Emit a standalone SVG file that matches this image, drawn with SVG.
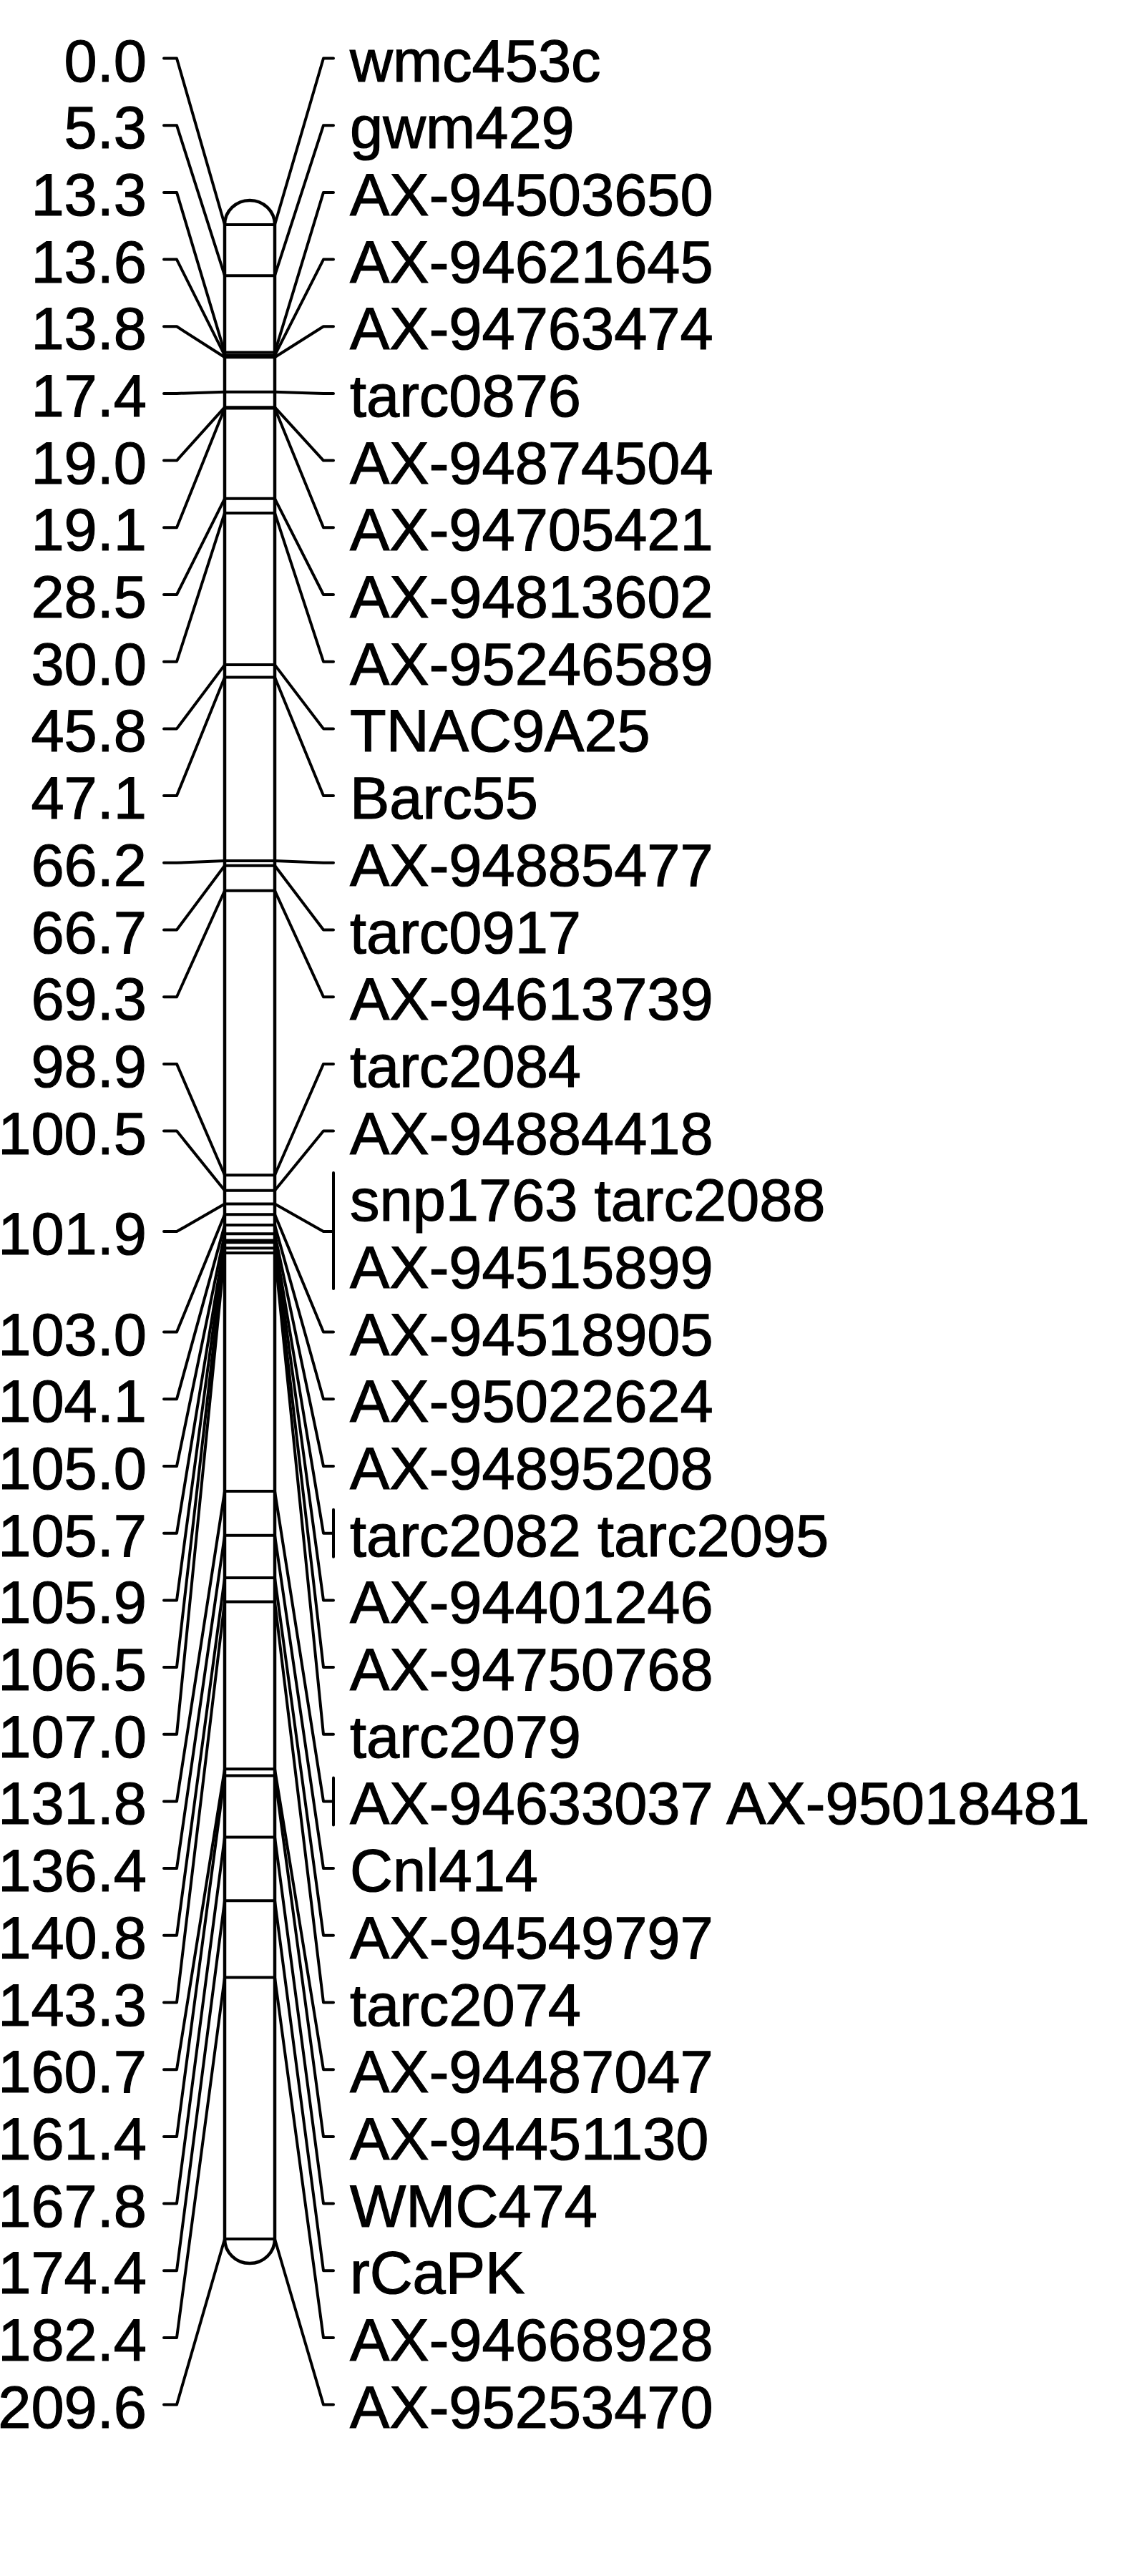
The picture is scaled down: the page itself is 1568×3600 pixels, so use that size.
<svg xmlns="http://www.w3.org/2000/svg" width="1568" height="3600" viewBox="0 0 1568 3600">
<style>
text{font-family:"Liberation Sans",Arial,sans-serif;font-size:83px;fill:#000;stroke:#000;stroke-width:1.2}
.l{text-anchor:end}
.c{fill:none;stroke:#000;stroke-width:4;stroke-linejoin:round;stroke-linecap:round}
.b{stroke:#000;stroke-width:4}
.o{fill:#fff;stroke:#000;stroke-width:4.5}
</style>
<rect width="1568" height="3600" fill="#fff"/>
<g id="chromosome">
<path class="o" d="M314,314 V3129 A35,34 0 0 0 384,3129 V314 A35,34 0 0 0 314,314 Z"/>
<g id="bands">
<line class="b" x1="314" x2="384" y1="314" y2="314"/>
<line class="b" x1="314" x2="384" y1="385.2" y2="385.2"/>
<line class="b" x1="314" x2="384" y1="492.6" y2="492.6"/>
<line class="b" x1="314" x2="384" y1="496.6" y2="496.6"/>
<line class="b" x1="314" x2="384" y1="499.3" y2="499.3"/>
<line class="b" x1="314" x2="384" y1="547.7" y2="547.7"/>
<line class="b" x1="314" x2="384" y1="569.2" y2="569.2"/>
<line class="b" x1="314" x2="384" y1="570.5" y2="570.5"/>
<line class="b" x1="314" x2="384" y1="696.8" y2="696.8"/>
<line class="b" x1="314" x2="384" y1="716.9" y2="716.9"/>
<line class="b" x1="314" x2="384" y1="929.1" y2="929.1"/>
<line class="b" x1="314" x2="384" y1="946.6" y2="946.6"/>
<line class="b" x1="314" x2="384" y1="1203.1" y2="1203.1"/>
<line class="b" x1="314" x2="384" y1="1209.8" y2="1209.8"/>
<line class="b" x1="314" x2="384" y1="1244.7" y2="1244.7"/>
<line class="b" x1="314" x2="384" y1="1642.2" y2="1642.2"/>
<line class="b" x1="314" x2="384" y1="1663.7" y2="1663.7"/>
<line class="b" x1="314" x2="384" y1="1682.5" y2="1682.5"/>
<line class="b" x1="314" x2="384" y1="1697.3" y2="1697.3"/>
<line class="b" x1="314" x2="384" y1="1712.1" y2="1712.1"/>
<line class="b" x1="314" x2="384" y1="1724.2" y2="1724.2"/>
<line class="b" x1="314" x2="384" y1="1733.6" y2="1733.6"/>
<line class="b" x1="314" x2="384" y1="1736.2" y2="1736.2"/>
<line class="b" x1="314" x2="384" y1="1744.3" y2="1744.3"/>
<line class="b" x1="314" x2="384" y1="1751" y2="1751"/>
<line class="b" x1="314" x2="384" y1="2084.1" y2="2084.1"/>
<line class="b" x1="314" x2="384" y1="2145.8" y2="2145.8"/>
<line class="b" x1="314" x2="384" y1="2204.9" y2="2204.9"/>
<line class="b" x1="314" x2="384" y1="2238.5" y2="2238.5"/>
<line class="b" x1="314" x2="384" y1="2472.2" y2="2472.2"/>
<line class="b" x1="314" x2="384" y1="2481.6" y2="2481.6"/>
<line class="b" x1="314" x2="384" y1="2567.6" y2="2567.6"/>
<line class="b" x1="314" x2="384" y1="2656.2" y2="2656.2"/>
<line class="b" x1="314" x2="384" y1="2763.6" y2="2763.6"/>
<line class="b" x1="314" x2="384" y1="3129" y2="3129"/>
</g>
</g>
<g id="connectors">
<path class="c" d="M229,81.5 H247 L314,314"/><path class="c" d="M384,314 L452,81.5 H466"/>
<path class="c" d="M229,175.2 H247 L314,385.2"/><path class="c" d="M384,385.2 L452,175.2 H466"/>
<path class="c" d="M229,268.9 H247 L314,492.6"/><path class="c" d="M384,492.6 L452,268.9 H466"/>
<path class="c" d="M229,362.6 H247 L314,496.6"/><path class="c" d="M384,496.6 L452,362.6 H466"/>
<path class="c" d="M229,456.3 H247 L314,499.3"/><path class="c" d="M384,499.3 L452,456.3 H466"/>
<path class="c" d="M229,549.9 H247 L314,547.7"/><path class="c" d="M384,547.7 L452,549.9 H466"/>
<path class="c" d="M229,643.6 H247 L314,569.2"/><path class="c" d="M384,569.2 L452,643.6 H466"/>
<path class="c" d="M229,737.3 H247 L314,570.5"/><path class="c" d="M384,570.5 L452,737.3 H466"/>
<path class="c" d="M229,831 H247 L314,696.8"/><path class="c" d="M384,696.8 L452,831 H466"/>
<path class="c" d="M229,924.7 H247 L314,716.9"/><path class="c" d="M384,716.9 L452,924.7 H466"/>
<path class="c" d="M229,1018.4 H247 L314,929.1"/><path class="c" d="M384,929.1 L452,1018.4 H466"/>
<path class="c" d="M229,1112.1 H247 L314,946.6"/><path class="c" d="M384,946.6 L452,1112.1 H466"/>
<path class="c" d="M229,1205.8 H247 L314,1203.1"/><path class="c" d="M384,1203.1 L452,1205.8 H466"/>
<path class="c" d="M229,1299.5 H247 L314,1209.8"/><path class="c" d="M384,1209.8 L452,1299.5 H466"/>
<path class="c" d="M229,1393.2 H247 L314,1244.7"/><path class="c" d="M384,1244.7 L452,1393.2 H466"/>
<path class="c" d="M229,1486.9 H247 L314,1642.2"/><path class="c" d="M384,1642.2 L452,1486.9 H466"/>
<path class="c" d="M229,1580.5 H247 L314,1663.7"/><path class="c" d="M384,1663.7 L452,1580.5 H466"/>
<path class="c" d="M229,1721.1 H247 L314,1682.5"/><path class="c" d="M384,1682.5 L452,1721.1 H466"/><path class="c" d="M466,1639 V1801"/>
<path class="c" d="M229,1861.6 H247 L314,1697.3"/><path class="c" d="M384,1697.3 L452,1861.6 H466"/>
<path class="c" d="M229,1955.3 H247 L314,1712.1"/><path class="c" d="M384,1712.1 L452,1955.3 H466"/>
<path class="c" d="M229,2049 H247 L314,1724.2"/><path class="c" d="M384,1724.2 L452,2049 H466"/>
<path class="c" d="M229,2142.7 H247 L314,1733.6"/><path class="c" d="M384,1733.6 L452,2142.7 H466"/><path class="c" d="M466,2109.7 V2175.7"/>
<path class="c" d="M229,2236.4 H247 L314,1736.2"/><path class="c" d="M384,1736.2 L452,2236.4 H466"/>
<path class="c" d="M229,2330.1 H247 L314,1744.3"/><path class="c" d="M384,1744.3 L452,2330.1 H466"/>
<path class="c" d="M229,2423.8 H247 L314,1751"/><path class="c" d="M384,1751 L452,2423.8 H466"/>
<path class="c" d="M229,2517.4 H247 L314,2084.1"/><path class="c" d="M384,2084.1 L452,2517.4 H466"/><path class="c" d="M466,2484.4 V2550.4"/>
<path class="c" d="M229,2611.1 H247 L314,2145.8"/><path class="c" d="M384,2145.8 L452,2611.1 H466"/>
<path class="c" d="M229,2704.8 H247 L314,2204.9"/><path class="c" d="M384,2204.9 L452,2704.8 H466"/>
<path class="c" d="M229,2798.5 H247 L314,2238.5"/><path class="c" d="M384,2238.5 L452,2798.5 H466"/>
<path class="c" d="M229,2892.2 H247 L314,2472.2"/><path class="c" d="M384,2472.2 L452,2892.2 H466"/>
<path class="c" d="M229,2985.9 H247 L314,2481.6"/><path class="c" d="M384,2481.6 L452,2985.9 H466"/>
<path class="c" d="M229,3079.6 H247 L314,2567.6"/><path class="c" d="M384,2567.6 L452,3079.6 H466"/>
<path class="c" d="M229,3173.3 H247 L314,2656.2"/><path class="c" d="M384,2656.2 L452,3173.3 H466"/>
<path class="c" d="M229,3267 H247 L314,2763.6"/><path class="c" d="M384,2763.6 L452,3267 H466"/>
<path class="c" d="M229,3360.6 H247 L314,3129"/><path class="c" d="M384,3129 L452,3360.6 H466"/>
</g>
<g id="m0"><text class="l" x="205" y="113.5">0.0</text><text x="489" y="113.5">wmc453c</text></g>
<g id="m1"><text class="l" x="205" y="207.2">5.3</text><text x="489" y="207.2">gwm429</text></g>
<g id="m2"><text class="l" x="205" y="300.9">13.3</text><text x="489" y="300.9">AX-94503650</text></g>
<g id="m3"><text class="l" x="205" y="394.6">13.6</text><text x="489" y="394.6">AX-94621645</text></g>
<g id="m4"><text class="l" x="205" y="488.3">13.8</text><text x="489" y="488.3">AX-94763474</text></g>
<g id="m5"><text class="l" x="205" y="581.9">17.4</text><text x="489" y="581.9">tarc0876</text></g>
<g id="m6"><text class="l" x="205" y="675.6">19.0</text><text x="489" y="675.6">AX-94874504</text></g>
<g id="m7"><text class="l" x="205" y="769.3">19.1</text><text x="489" y="769.3">AX-94705421</text></g>
<g id="m8"><text class="l" x="205" y="863">28.5</text><text x="489" y="863">AX-94813602</text></g>
<g id="m9"><text class="l" x="205" y="956.7">30.0</text><text x="489" y="956.7">AX-95246589</text></g>
<g id="m10"><text class="l" x="205" y="1050.4">45.8</text><text x="489" y="1050.4">TNAC9A25</text></g>
<g id="m11"><text class="l" x="205" y="1144.1">47.1</text><text x="489" y="1144.1">Barc55</text></g>
<g id="m12"><text class="l" x="205" y="1237.8">66.2</text><text x="489" y="1237.8">AX-94885477</text></g>
<g id="m13"><text class="l" x="205" y="1331.5">66.7</text><text x="489" y="1331.5">tarc0917</text></g>
<g id="m14"><text class="l" x="205" y="1425.2">69.3</text><text x="489" y="1425.2">AX-94613739</text></g>
<g id="m15"><text class="l" x="205" y="1518.9">98.9</text><text x="489" y="1518.9">tarc2084</text></g>
<g id="m16"><text class="l" x="205" y="1612.5">100.5</text><text x="489" y="1612.5">AX-94884418</text></g>
<g id="m17"><text class="l" x="205" y="1753.1">101.9</text><text x="489" y="1706.2">snp1763 tarc2088</text><text x="489" y="1799.9">AX-94515899</text></g>
<g id="m19"><text class="l" x="205" y="1893.6">103.0</text><text x="489" y="1893.6">AX-94518905</text></g>
<g id="m20"><text class="l" x="205" y="1987.3">104.1</text><text x="489" y="1987.3">AX-95022624</text></g>
<g id="m21"><text class="l" x="205" y="2081">105.0</text><text x="489" y="2081">AX-94895208</text></g>
<g id="m22"><text class="l" x="205" y="2174.7">105.7</text><text x="489" y="2174.7">tarc2082 tarc2095</text></g>
<g id="m23"><text class="l" x="205" y="2268.4">105.9</text><text x="489" y="2268.4">AX-94401246</text></g>
<g id="m24"><text class="l" x="205" y="2362.1">106.5</text><text x="489" y="2362.1">AX-94750768</text></g>
<g id="m25"><text class="l" x="205" y="2455.8">107.0</text><text x="489" y="2455.8">tarc2079</text></g>
<g id="m26"><text class="l" x="205" y="2549.4">131.8</text><text x="489" y="2549.4">AX-94633037 AX-95018481</text></g>
<g id="m27"><text class="l" x="205" y="2643.1">136.4</text><text x="489" y="2643.1">Cnl414</text></g>
<g id="m28"><text class="l" x="205" y="2736.8">140.8</text><text x="489" y="2736.8">AX-94549797</text></g>
<g id="m29"><text class="l" x="205" y="2830.5">143.3</text><text x="489" y="2830.5">tarc2074</text></g>
<g id="m30"><text class="l" x="205" y="2924.2">160.7</text><text x="489" y="2924.2">AX-94487047</text></g>
<g id="m31"><text class="l" x="205" y="3017.9">161.4</text><text x="489" y="3017.9">AX-94451130</text></g>
<g id="m32"><text class="l" x="205" y="3111.6">167.8</text><text x="489" y="3111.6">WMC474</text></g>
<g id="m33"><text class="l" x="205" y="3205.3">174.4</text><text x="489" y="3205.3">rCaPK</text></g>
<g id="m34"><text class="l" x="205" y="3299">182.4</text><text x="489" y="3299">AX-94668928</text></g>
<g id="m35"><text class="l" x="205" y="3392.6">209.6</text><text x="489" y="3392.6">AX-95253470</text></g>
</svg>
